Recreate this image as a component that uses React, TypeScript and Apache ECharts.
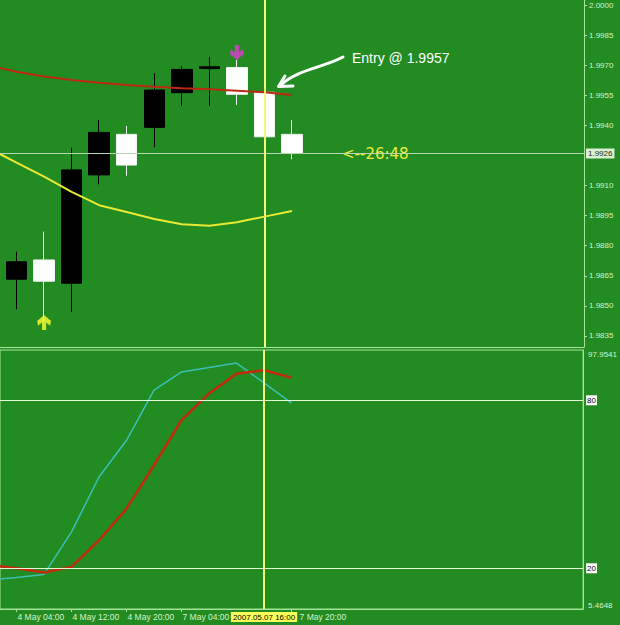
import React, { useEffect, useRef } from 'react';
import * as echarts from 'echarts';

// 4-hour bars; slot index = position in this list
const times = [
  '2007.05.03 20:00', '2007.05.04 00:00', '2007.05.04 04:00', '2007.05.04 08:00',
  '2007.05.04 12:00', '2007.05.04 16:00', '2007.05.04 20:00', '2007.05.07 00:00',
  '2007.05.07 04:00', '2007.05.07 08:00', '2007.05.07 12:00', '2007.05.07 16:00',
  '2007.05.07 20:00', '2007.05.08 00:00', '2007.05.08 04:00', '2007.05.08 08:00',
  '2007.05.08 12:00', '2007.05.08 16:00', '2007.05.08 20:00', '2007.05.09 00:00',
  '2007.05.09 04:00', '2007.05.09 08:00', '2007.05.09 12:00',
];

const tickTimes = ['2007.05.04 04:00', '2007.05.04 12:00', '2007.05.04 20:00', '2007.05.07 04:00', '2007.05.07 20:00'];
const tickLabels = ['4 May 04:00', '4 May 12:00', '4 May 20:00', '7 May 04:00', '7 May 20:00'];

const opens = [null, null, 1.98633, 1.98729, 1.98613, 1.99153, 1.99355, 1.99390, 1.99563, 1.99683, 1.99688, 1.99565, 1.99355];
const highs = [null, null, 1.98770, 1.98870, 1.99289, 1.99427, 1.99397, 1.99660, 1.99696, 1.99742, 1.99726, 1.99570, 1.99427];
const lows = [null, null, 1.98483, 1.98421, 1.98470, 1.99106, 1.99149, 1.99291, 1.99497, 1.99497, 1.99502, 1.99340, 1.99231];
const closes = [null, null, 1.98720, 1.98623, 1.99178, 1.99365, 1.99202, 1.99576, 1.99679, 1.99692, 1.99555, 1.99343, 1.99260];

const redMA = [null, 1.99698, 1.99667, 1.99644, 1.99626, 1.99613, 1.99601, 1.99593, 1.99585, 1.99580, 1.99573, 1.99565, 1.99551];
const yellowMA = [null, 1.99286, 1.99214, 1.99144, 1.99068, 1.99002, 1.98968, 1.98933, 1.98907, 1.98900, 1.98917, 1.98945, 1.98973];

const stochMain = [null, 15.8, 16.7, 17.8, 33.0, 52.6, 65.7, 83.6, 90.1, 91.7, 93.3, 86.2, 79.0];
const stochSignal = [null, 21.2, 20.0, 18.5, 20.5, 30.0, 41.3, 56.8, 72.9, 82.4, 89.5, 90.7, 88.1];

const priceTicks = [1.9835, 1.985, 1.9865, 1.988, 1.9895, 1.991, 1.994, 1.9955, 1.997, 1.9985, 2.0];
const priceMin = 1.98295;
const priceMax = 2.00025;
const stochMin = 5.4648;
const stochMax = 97.9541;
const stochLevels = [80, 20];
const bidPrice = 1.9926;
const cursorTime = '2007.05.07 16:00';
const sellArrowTime = '2007.05.07 12:00';
const sellArrowPrice = 1.99763;
const buyArrowTime = '2007.05.04 08:00';
const buyArrowPrice = 1.98417;

// visible slot window (layout)
const xMin = 1.4;
const xMax = 22.6;

const BG = '#228b22';
const AXIS = '#a4e59a';
const TEXT = '#d6f3cc';
const LEVEL = '#e4f8d6';
const CROSS = '#f6f67a';
const FONT = '"Liberation Sans", Arial, sans-serif';

const downArrow = 'path://M3.5,0 L6.5,0 L6.5,5 L9.3,2.8 L10,6 L5,10 L0,6 L0.7,2.8 L3.5,5 Z';
const upArrow = 'path://M5,0 L10,4 L9.3,7.2 L6.5,5 L6.5,10 L3.5,10 L3.5,5 L0.7,7.2 L0,4 Z';

export default function App() {
  const ref = useRef<HTMLDivElement>(null);
  useEffect(() => {
    if (!ref.current) return;
    const chart = echarts.init(ref.current, null, { renderer: 'svg' });
    const candleData = opens
      .map((o, i) => (o == null ? null : [i, o, closes[i], lows[i], highs[i]]))
      .filter((d) => d != null);
    const pairs = (arr: (number | null)[]) =>
      arr.map((v, i) => (v == null ? null : [i, v])).filter((d) => d != null);
    const tickIdx = tickTimes.map((t) => times.indexOf(t));
    const lastTickIdx = tickIdx[tickIdx.length - 1];
    const cursorIdx = times.indexOf(cursorTime);
    const option: any = {
      animation: false,
      backgroundColor: BG,
      grid: [
        { left: 0, right: 36, top: 0, height: 347 },
        { left: 0, right: 36, top: 350, height: 259, show: true, borderColor: AXIS, borderWidth: 1, backgroundColor: 'transparent' },
      ],
      xAxis: [
        {
          type: 'value', gridIndex: 0, min: xMin, max: xMax,
          axisLine: { show: true, lineStyle: { color: AXIS } },
          axisTick: { show: false }, axisLabel: { show: false }, splitLine: { show: false },
        },
        {
          type: 'value', gridIndex: 1, min: xMin, max: xMax,
          axisLine: { show: true, lineStyle: { color: AXIS } },
          axisTick: { show: true, length: 3, customValues: tickIdx, lineStyle: { color: AXIS } },
          axisLabel: {
            customValues: tickIdx,
            formatter: (v: number) => {
              const i = Math.round(v);
              const k = tickTimes.indexOf(times[i]);
              if (k < 0) return '';
              return i === lastTickIdx ? '{shift|' + tickLabels[k] + '}' : tickLabels[k];
            },
            rich: { shift: { padding: [0, 0, 0, 7], color: TEXT, fontSize: 8.5, fontFamily: FONT } },
            align: 'left', color: TEXT, fontSize: 8.5, fontFamily: FONT, margin: 3, padding: [0, 0, 0, 1],
          },
          splitLine: { show: false },
        },
      ],
      yAxis: [
        {
          type: 'value', gridIndex: 0, position: 'right', min: priceMin, max: priceMax, scale: true,
          splitLine: { show: false },
          axisLine: { show: true, lineStyle: { color: AXIS } },
          axisTick: { show: true, length: 3, customValues: priceTicks, lineStyle: { color: AXIS } },
          axisLabel: { customValues: priceTicks, formatter: (v: number) => v.toFixed(4), color: TEXT, fontSize: 8, fontFamily: FONT, margin: 5 },
        },
        {
          type: 'value', gridIndex: 1, position: 'right', min: stochMin, max: stochMax,
          splitLine: { show: false },
          axisLine: { show: true, lineStyle: { color: AXIS } },
          axisTick: { show: false },
          axisLabel: {
            customValues: [stochMin, stochMax], formatter: (v: number) => v.toFixed(4),
            color: TEXT, fontSize: 8, fontFamily: FONT, margin: 5,
            verticalAlignMinLabel: 'bottom', verticalAlignMaxLabel: 'top',
          },
        },
      ],
      series: [
        {
          type: 'candlestick', xAxisIndex: 0, yAxisIndex: 0, data: candleData, barWidth: 21,
          encode: { x: 0, y: [1, 2, 3, 4] },
          itemStyle: { color: '#000000', color0: '#ffffff', borderColor: '#000000', borderColor0: '#f2f2f2', borderWidth: 1 },
        },
        {
          type: 'line', xAxisIndex: 0, yAxisIndex: 0, data: pairs(redMA), symbol: 'none', silent: true, clip: false,
          lineStyle: { color: '#bd2a12', width: 2 },
          markLine: {
            silent: true, symbol: ['none', 'none'], animation: false, precision: 6,
            data: [
              {
                yAxis: bidPrice, lineStyle: { color: '#b7d6b1', width: 1, type: 'solid' },
                label: { show: true, position: 'end', formatter: bidPrice.toFixed(4), backgroundColor: '#dcefd2', color: '#143214', fontSize: 8, fontFamily: FONT, padding: [1, 2], distance: 2 },
              },
              { xAxis: cursorIdx, lineStyle: { color: CROSS, width: 2, type: 'solid' }, label: { show: false } },
            ],
          },
        },
        { type: 'line', xAxisIndex: 0, yAxisIndex: 0, data: pairs(yellowMA), symbol: 'none', silent: true, clip: false, lineStyle: { color: '#eaea34', width: 2 } },
        { type: 'scatter', xAxisIndex: 0, yAxisIndex: 0, data: [[times.indexOf(sellArrowTime), sellArrowPrice]], symbol: downArrow, symbolSize: [14, 15], itemStyle: { color: '#e43ad6' }, silent: true },
        { type: 'scatter', xAxisIndex: 0, yAxisIndex: 0, data: [[times.indexOf(buyArrowTime), buyArrowPrice]], symbol: upArrow, symbolSize: [14, 15], itemStyle: { color: '#ffff33' }, silent: true },
        {
          type: 'line', xAxisIndex: 1, yAxisIndex: 1, data: pairs(stochMain), symbol: 'none', silent: true, clip: false,
          lineStyle: { color: '#3cc0b6', width: 1.5 },
          markLine: {
            silent: true, symbol: ['none', 'none'], animation: false, precision: 4,
            data: stochLevels.map((v) => ({
              yAxis: v, lineStyle: { color: LEVEL, width: 1, type: 'solid' },
              label: { show: true, position: 'end', formatter: String(v), backgroundColor: '#ffffff', color: '#000000', fontSize: 8, fontFamily: FONT, padding: [1, 1], distance: 3 },
            })),
          },
        },
        {
          type: 'line', xAxisIndex: 1, yAxisIndex: 1, data: pairs(stochSignal), symbol: 'none', silent: true, clip: false,
          lineStyle: { color: '#c42a0c', width: 2.5 },
          markLine: {
            silent: true, symbol: ['none', 'none'], animation: false,
            data: [
              {
                xAxis: cursorIdx, lineStyle: { color: CROSS, width: 2, type: 'solid' },
                label: { show: true, position: 'start', formatter: cursorTime, backgroundColor: '#ffff5a', color: '#000000', fontSize: 8, fontFamily: FONT, padding: [1, 2], distance: 3 },
              },
            ],
          },
        },
      ],
      graphic: [
        { type: 'text', x: 352, y: 58, silent: true, style: { text: 'Entry @ 1.9957', fill: '#ffffff', font: '14px "Liberation Sans", Arial, sans-serif', verticalAlign: 'middle' } },
        { type: 'bezierCurve', silent: true, shape: { x1: 343, y1: 57, cpx1: 325, cpy1: 67, cpx2: 296, cpy2: 70, x2: 281, y2: 85 }, style: { stroke: '#ffffff', lineWidth: 3, fill: null, lineCap: 'round' } },
        { type: 'polyline', silent: true, shape: { points: [[285, 76], [278.5, 86.5], [293, 86]] }, style: { stroke: '#ffffff', lineWidth: 3, fill: null, lineJoin: 'round', lineCap: 'round' } },
        { type: 'text', x: 342, y: 154, silent: true, style: { text: '<--26:48', fill: '#eded3a', font: '15px "DejaVu Sans", sans-serif', verticalAlign: 'middle' } },
      ],
    };
    chart.setOption(option);
    return () => chart.dispose();
  }, []);
  return <div ref={ref} style={{ position: 'absolute', left: 0, top: 0, width: 620, height: 625 }} />;
}
